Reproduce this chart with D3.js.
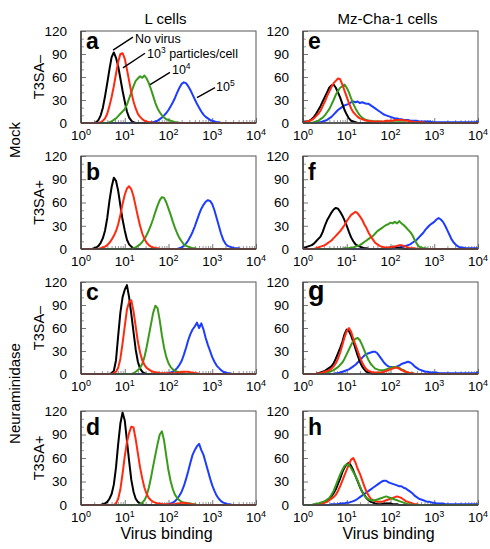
<!DOCTYPE html>
<html><head><meta charset="utf-8">
<script src="https://cdn.jsdelivr.net/npm/d3@7"></script>
<style>body{margin:0;background:#fff;} text{font-family:"Liberation Sans",Arial,Helvetica,sans-serif;fill:#000;}</style>
</head><body><svg id="c" width="490" height="549"></svg>
<script>
// ---- data: counts per 0.05-decade bin, starting at log10(value) = start ----
const binStep = 0.05;
const xTickExponents = [0, 1, 2, 3, 4];
const yTicks = [0, 30, 60, 90, 120];
const yMinorTicks = [10, 20, 40, 50, 70, 80, 100, 110];
const columnTitles = ["L cells", "Mz-Cha-1 cells"];
const treatmentLabels = ["Mock", "Neuraminidase"];
const rowLabels = ["T3SA\u2013", "T3SA+", "T3SA\u2013", "T3SA+"];
const panelLetters = ["a", "b", "c", "d", "e", "f", "g", "h"];
const seriesColors = ["#000000", "#ff2a10", "#3a9a1c", "#1c3cff"];

// annotation labels (panel a) : line from [x,count] to [x,count], text anchor [x,count]
const annLabels = [
  {base:"No virus", sup:"", rest:""},
  {base:"10", sup:"3", rest:" particles/cell"},
  {base:"10", sup:"4", rest:""},
  {base:"10", sup:"5", rest:""},
];
const annLineFrom = [[5.4, 95], [9.1, 72], [38, 50], [448, 33]];
const annLineTo   = [[15.4, 112], [29, 91], [108, 66], [1156, 46]];
const annTextAt   = [[17.1, 105], [32.3, 85], [120, 64], [1219, 42]];

// L cells
const a_black = {start:0.30, counts:[0,1,4,10,20,35,52,70,86,92,85,74,58,42,28,15,7,3,1,0]};
const a_red   = {start:0.45, counts:[1,3,6,12,22,34,48,64,80,90,91,84,70,55,40,28,19,12,8,5,3,2,1,1,0]};
const a_green = {start:0.65, counts:[1,2,4,6,9,12,15,18,24,32,40,48,55,58,61,59,62,58,52,44,35,26,19,14,10,7,5,4,3,2,1,1,0]};
const a_blue  = {start:1.55, counts:[0,1,1,2,3,5,7,10,13,17,22,27,33,40,46,51,53,52,48,43,37,31,25,20,15,11,8,6,4,3,2,1,1,0]};

const b_black = {start:0.30, counts:[1,2,4,8,14,24,40,62,80,92,88,75,56,38,24,12,6,3,1,0]};
const b_red   = {start:0.40, counts:[0,1,2,3,5,8,12,17,23,32,44,58,70,78,81,77,68,55,42,30,20,13,8,5,3,2,1,1,0]};
const b_green = {start:1.15, counts:[0,1,2,4,6,9,13,18,24,31,39,48,56,63,67,66,60,52,44,35,27,20,14,10,6,4,3,2,1,1,0]};
const b_blue  = {start:2.20, counts:[0,1,2,4,7,11,16,22,29,37,45,52,57,61,63,62,58,50,40,30,20,12,7,4,3,2,1,1,1,0]};

const c_black = {start:0.65, counts:[0,1,4,18,50,80,100,110,116,100,78,55,32,16,7,3,1,0]};
const c_red   = {start:0.70, counts:[0,1,3,8,20,40,62,84,94,96,82,62,42,28,18,12,8,6,4,3,2,2,1,1,1,1,1,1,1,1,2,2,3,3,3,3,2,2,1,1,0]};
const c_green = {start:1.15, counts:[0,1,3,5,8,13,22,35,50,65,80,89,86,70,50,34,22,14,9,6,4,3,2,1,1,0]};
const c_blue  = {start:1.95, counts:[0,1,2,3,5,8,12,17,25,34,44,52,58,62,67,60,66,58,47,38,30,22,16,11,8,5,3,2,1,1,0]};

const d_black = {start:0.45, counts:[0,1,2,4,8,14,26,48,78,104,118,108,82,56,32,17,8,4,2,1,0]};
const d_red   = {start:0.75, counts:[0,2,8,20,40,62,80,92,100,99,84,66,48,34,22,14,9,6,4,3,2,2,1,1,1,1,1,1,1,2,2,3,3,2,2,1,1,0]};
const d_green = {start:1.30, counts:[0,1,3,6,12,22,35,50,64,78,90,94,82,62,44,30,20,13,9,6,4,3,3,2,2,1,1,0]};
const d_blue  = {start:1.95, counts:[0,1,2,3,5,8,12,17,24,33,43,54,64,70,75,78,70,64,54,44,34,25,18,12,8,5,3,2,1,1,0]};

// Mz-Cha-1 cells
const e_black = {start:0.00, counts:[1,2,2,3,5,8,12,17,22,28,34,40,46,49,50,46,40,33,25,17,11,6,3,2,1,0]};
const e_red   = {start:0.00, counts:[1,1,2,3,4,6,9,12,16,22,28,35,41,47,52,55,58,57,50,42,34,26,19,14,11,8,6,5,4,3,3,2,2,2,2,2,2,2,3,3,3,3,4,4,4,4,4,3,3,2,2,1,1,1,1,1,0]};
const e_green = {start:0.20, counts:[0,1,2,3,5,7,10,14,18,24,30,37,42,46,48,50,46,40,32,25,19,14,10,7,5,4,3,3,2,2,2,2,1,1,1,1,1,1,1,1,1,1,1,0]};
const e_blue  = {start:0.30, counts:[0,1,1,2,3,4,6,8,11,14,17,19,21,23,24,25,27,28,27,28,26,27,26,25,25,23,21,19,17,15,13,11,10,9,8,7,6,6,5,5,4,4,4,3,3,3,3,2,2,2,2,2,2,1,1,1,1,1,1,1,1,1,1,1,1,1,1,1,1,1,1,1,1,1,3]};

const f_black = {start:0.00, counts:[2,2,3,4,5,7,10,13,16,22,30,37,42,47,51,53,52,48,43,37,30,22,15,10,6,4,3,2,1,1,0,0,0,0,0,0,0,0,1,1,2,3,3,2,1,1,0]};
const f_red   = {start:0.25, counts:[0,1,2,3,4,5,7,9,11,14,17,20,23,27,31,36,40,44,46,48,46,42,38,32,27,21,16,12,8,6,4,3,2,2,2,2,3,3,4,5,5,4,3,2,1,1,1,0]};
const f_green = {start:0.90, counts:[0,1,1,1,2,2,3,4,5,7,9,11,13,15,17,20,23,25,27,29,31,32,34,33,35,33,36,33,31,28,25,22,18,12,7,3,2,1,1,0]};
const f_blue  = {start:2.00, counts:[0,1,1,2,2,3,3,4,5,6,8,10,12,15,18,21,25,28,31,33,35,38,40,38,35,30,24,18,12,8,5,3,2,2,1,1,1,1,1,1,1]};

const g_black = {start:0.30, counts:[0,1,2,3,4,6,8,10,14,20,27,34,42,52,58,56,50,42,33,24,16,10,6,3,2,1,0]};
const g_red   = {start:0.30, counts:[0,1,1,2,3,4,5,7,10,14,20,28,38,48,56,60,55,46,38,30,22,15,10,6,4,3,2,2,2,2,2,3,4,5,6,7,8,8,7,5,4,3,2,1,1,0]};
const g_green = {start:0.45, counts:[0,1,2,3,4,5,7,9,12,15,20,26,32,38,43,46,47,44,38,31,24,18,13,10,7,6,5,5,5,6,7,8,9,9,9,8,6,5,3,2,1,1,0]};
const g_blue  = {start:0.70, counts:[0,1,1,2,3,4,5,6,8,10,12,15,18,21,24,26,27,28,29,29,27,23,19,15,12,10,9,9,9,10,11,13,14,15,16,15,13,10,8,6,5,4,3,3,2,2,2,2,1,1,1,1,1,1,1,1,1,1,1,1,1,1,1,1,1,1,3]};

const h_black = {start:0.25, counts:[0,1,1,2,3,4,6,8,11,15,20,27,34,42,48,52,54,50,44,37,30,23,17,13,9,6,4,3,2,1,1,1,2,2,2,2,1,1,1,0]};
const h_red   = {start:0.35, counts:[0,1,2,3,4,6,8,10,13,18,24,31,38,45,52,58,60,54,46,40,32,24,17,12,8,6,5,4,4,4,5,6,7,8,9,10,11,10,9,7,5,4,3,2,1,1,0]};
const h_green = {start:0.20, counts:[0,1,1,2,3,4,5,7,9,13,18,25,32,39,45,50,52,51,47,42,37,31,24,17,12,9,7,6,6,6,7,8,9,10,11,10,9,8,7,6,5,4,3,2,1,1,0]};
const h_blue  = {start:0.60, counts:[0,1,1,1,1,2,2,2,3,3,4,5,6,8,10,12,14,16,18,20,22,24,26,28,30,31,31,29,28,27,26,25,24,24,22,21,19,17,15,12,10,8,7,6,5,4,4,3,3,2,2,2,2,1,1,1,1,1,1,1,1,1,1,1,1,1,1,1,1]};

// ---- layout ----
const svg = d3.select("#c");
const colX = [81, 303], panelW = 175;
const rowTop = [31, 156, 282, 411], rowBot = [123, 249, 374, 505];

const panels = [
  {col:0,row:0,s:[a_black,a_red,a_green,a_blue]},
  {col:0,row:1,s:[b_black,b_red,b_green,b_blue]},
  {col:0,row:2,s:[c_black,c_red,c_green,c_blue]},
  {col:0,row:3,s:[d_black,d_red,d_green,d_blue]},
  {col:1,row:0,s:[e_black,e_red,e_green,e_blue]},
  {col:1,row:1,s:[f_black,f_red,f_green,f_blue]},
  {col:1,row:2,s:[g_black,g_red,g_green,g_blue]},
  {col:1,row:3,s:[h_black,h_red,h_green,h_blue]},
];

function expand(ser) {
  const pts = [];
  const n = Math.round(4 / binStep);
  for (let k = 0; k <= n; k++) {
    const L = k * binStep;
    const i = Math.round((L - ser.start) / binStep);
    const v = (i >= 0 && i < ser.counts.length) ? ser.counts[i] : 0;
    pts.push([Math.pow(10, L), v]);
  }
  return pts;
}

const xMinor = [];
for (let e = 0; e < 4; e++) for (let m = 2; m <= 9; m++) xMinor.push(m * Math.pow(10, e));

panels.forEach((p, pi) => {
  const x0 = colX[p.col], y0 = rowTop[p.row], y1 = rowBot[p.row];
  const x = d3.scaleLog().domain([1, 1e4]).range([x0, x0 + panelW]);
  const y = d3.scaleLinear().domain([0, 120]).range([y1, y0]);
  const g = svg.append("g");

  const ym = g.append("g").attr("transform", `translate(${x0},0)`)
    .call(d3.axisLeft(y).tickValues(yMinorTicks).tickSize(-3).tickFormat(""));
  ym.select(".domain").remove();
  ym.selectAll("line").attr("stroke", "#999");
  const ymaj = g.append("g").attr("transform", `translate(${x0},0)`)
    .call(d3.axisLeft(y).tickValues(yTicks).tickSize(-5).tickPadding(14));
  ymaj.select(".domain").remove();
  ymaj.selectAll("line").attr("stroke", "#777");
  ymaj.selectAll("text").attr("font-size", 13.5).attr("font-family", "Liberation Sans, Arial, sans-serif").attr("fill", "#000");

  const xm = g.append("g").attr("transform", `translate(0,${y1})`)
    .call(d3.axisBottom(x).tickValues(xMinor).tickSize(-3).tickFormat(""));
  xm.select(".domain").remove();
  xm.selectAll("line").attr("stroke", "#999");
  const xmaj = g.append("g").attr("transform", `translate(0,${y1})`)
    .call(d3.axisBottom(x).tickValues(xTickExponents.map(e => Math.pow(10, e))).tickSize(-5).tickFormat(""));
  xmaj.select(".domain").remove();
  xmaj.selectAll("line").attr("stroke", "#777");
  xTickExponents.forEach(e => {
    const t = g.append("text").attr("x", x(Math.pow(10, e))).attr("y", y1 + 17)
      .attr("text-anchor", "middle").attr("font-size", 13.5);
    t.append("tspan").text("10");
    t.append("tspan").attr("dy", -5).attr("font-size", 9).text(e);
  });

  const line = d3.line().x(d => x(d[0])).y(d => y(d[1]));
  const order = (pi === 7) ? [3, 0, 1, 2] : [3, 0, 2, 1];
  order.forEach(si => {
    g.append("path").attr("d", line(expand(p.s[si])))
      .attr("fill", "none").attr("stroke", seriesColors[si])
      .attr("stroke-width", 2).attr("stroke-linejoin", "round");
  });

  g.append("rect").attr("x", x0).attr("y", y0).attr("width", panelW).attr("height", y1 - y0)
    .attr("fill", "none").attr("stroke", "#555").attr("stroke-width", 1);
  g.append("line").attr("x1", x0).attr("x2", x0).attr("y1", y0).attr("y2", y1)
    .attr("stroke", "#444").attr("stroke-width", 1.6);
  g.append("line").attr("x1", x0).attr("x2", x0 + panelW).attr("y1", y1).attr("y2", y1)
    .attr("stroke", "#444").attr("stroke-width", 1.6);

  const letter = panelLetters[pi];
  const asc = "bdfh".includes(letter);
  g.append("text").attr("x", x0 + 5).attr("y", y0 + (asc ? 24 : 18))
    .attr("font-size", letter === "g" ? 27 : 23).attr("font-weight", "bold")
    .attr("font-family", letter === "g" ? "Liberation Serif, Times New Roman, serif" : "Liberation Sans, Arial, sans-serif")
    .text(letter);

  if (pi === 0) {
    annLabels.forEach((a, k) => {
      g.append("line").attr("x1", x(annLineFrom[k][0])).attr("y1", y(annLineFrom[k][1]))
        .attr("x2", x(annLineTo[k][0])).attr("y2", y(annLineTo[k][1]))
        .attr("stroke", "#000").attr("stroke-width", 1.4);
      const t = g.append("text").attr("x", x(annTextAt[k][0])).attr("y", y(annTextAt[k][1])).attr("font-size", 12.5);
      t.append("tspan").text(a.base);
      if (a.sup) t.append("tspan").attr("dy", -5).attr("font-size", 8.5).text(a.sup);
      if (a.rest) t.append("tspan").attr("dy", 5).text(a.rest);
    });
  }
});

columnTitles.forEach((t, i) => {
  svg.append("text").attr("x", colX[i] + panelW / 2 - 3).attr("y", 24)
    .attr("text-anchor", "middle").attr("font-size", 15).text(t);
  svg.append("text").attr("x", colX[i] + panelW / 2 - 2).attr("y", 539)
    .attr("text-anchor", "middle").attr("font-size", 16).text("Virus binding");
});

rowLabels.forEach((t, r) => {
  const cy = (rowTop[r] + rowBot[r]) / 2;
  svg.append("text").attr("transform", `translate(44,${cy}) rotate(-90)`)
    .attr("text-anchor", "middle").attr("font-size", 14.5).text(t);
});
treatmentLabels.forEach((t, i) => {
  const cy = (rowTop[i * 2] + rowBot[i * 2 + 1]) / 2;
  svg.append("text").attr("transform", `translate(20,${cy}) rotate(-90)`)
    .attr("text-anchor", "middle").attr("font-size", 15).text(t);
});
</script></body></html>
